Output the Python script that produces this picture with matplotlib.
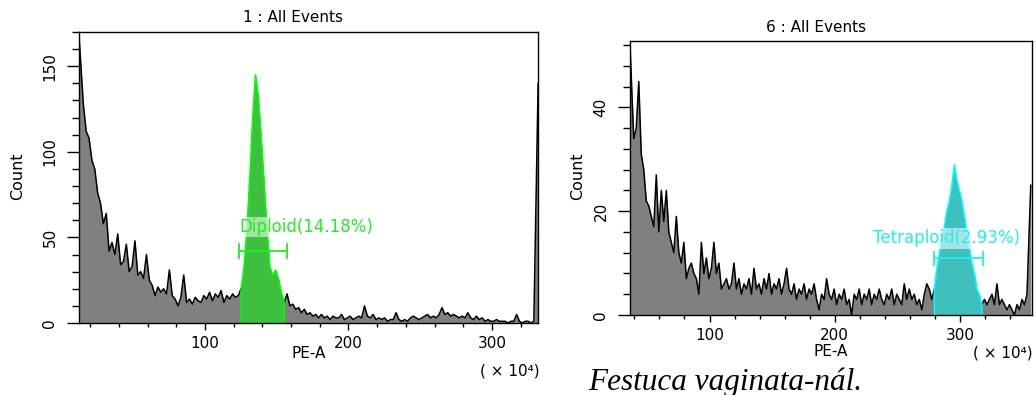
import numpy as np
import matplotlib
matplotlib.use('Agg')
import matplotlib.pyplot as plt
from matplotlib.ticker import MultipleLocator

plt.rcParams['font.family'] = ['DejaVu Sans']

""" ================================================================
                    DATA (read off the two histograms)
  ================================================================"""

# sample 1: PE-A channel (x 10^4), 2-unit bins
left_edges = np.linspace(12.2, 332.2, 161)
left_counts = [
    168, 128, 112, 108, 95, 90, 76, 70, 58, 64,
    42, 47, 40, 52, 34, 36, 46, 30, 33, 48,
    28, 30, 26, 40, 25, 22, 16, 21, 18, 20,
    17, 31, 16, 14, 10, 15, 28, 12, 14, 11,
    15, 13, 12, 16, 14, 18, 13, 17, 15, 19,
    12, 16, 14, 17, 15, 16, 20, 33, 55, 85,
    120, 145, 132, 108, 82, 55, 33, 28, 31, 26,
    18, 12, 17, 10, 11, 8, 9, 6, 8, 5,
    6, 4, 5, 3, 5, 3, 4, 2, 4, 3,
    3, 5, 2, 3, 4, 2, 3, 4, 3, 10,
    4, 3, 5, 2, 3, 2, 3, 1, 2, 2,
    6, 2, 1, 2, 1, 3, 4, 3, 2, 3,
    4, 5, 3, 4, 3, 5, 9, 5, 6, 4,
    5, 4, 3, 4, 3, 6, 3, 2, 4, 2,
    3, 1, 2, 1, 1, 2, 1, 1, 1, 0,
    1, 1, 5, 1, 0, 1, 1, 0, 1, 140,
]
left_gate = (124.0, 157.0)
left_label = 'Diploid(14.18%)'
left_title = '1 : All Events'

# sample 6
right_edges = np.linspace(36.5, 356.5, 161)
right_counts = [
    52, 34, 36, 45, 31, 28, 22, 21, 19, 17,
    27, 16, 24, 18, 24, 16, 14, 12, 19, 12,
    10, 14, 7, 9, 10, 8, 7, 4, 14, 8,
    11, 7, 9, 14, 8, 10, 5, 6, 7, 5,
    6, 10, 5, 7, 4, 6, 5, 7, 4, 9,
    5, 6, 4, 7, 5, 8, 4, 6, 5, 7,
    4, 6, 9, 5, 4, 6, 3, 5, 4, 6,
    3, 5, 4, 6, 3, 1, 4, 3, 7, 4,
    3, 5, 2, 4, 3, 5, 2, 3, 0, 4,
    3, 5, 2, 4, 3, 5, 2, 4, 3, 5,
    3, 2, 4, 3, 5, 2, 4, 3, 2, 6,
    3, 5, 3, 4, 2, 3, 1, 4, 6, 5,
    3, 5, 9, 12, 15, 17, 20, 22, 25, 29,
    26, 24, 22, 19, 16, 13, 10, 8, 5, 4,
    2, 3, 2, 3, 4, 2, 6, 2, 3, 2,
    1, 2, 1, 0, 2, 1, 3, 2, 4, 25,
]
right_gate = (279.0, 318.5)
right_label = 'Tetraploid(2.93%)'
right_title = '6 : All Events'

caption = 'Festuca vaginata-nál.'


""" ================================================================
                            PLOTTING
  ================================================================"""

def draw_hist(ax, edges, counts, gate, fill_col, line_col):
    counts = np.asarray(counts, dtype=float)
    centers = (edges[:-1] + edges[1:]) / 2
    sel = (centers > gate[0]) & (centers < gate[1])
    i0 = int(np.argmax(sel))
    i1 = i0 + int(sel.sum())

    # jagged line through the channel centres; stretch the ends to the axis edges
    xs = centers.copy()
    xs[0], xs[-1] = edges[0], edges[-1]

    ax.fill_between(xs, counts, color='#808080', lw=0)
    ax.fill_between(xs[i0:i1], counts[i0:i1], color=fill_col, lw=0)
    ax.plot(xs[:i0 + 1], counts[:i0 + 1], color='black', lw=1.1)
    ax.plot(xs[i1 - 1:], counts[i1 - 1:], color='black', lw=1.1)
    gx = np.r_[xs[i0], xs[i0:i1], xs[i1 - 1]]
    gy = np.r_[0, counts[i0:i1], 0]
    ax.plot(gx, gy, color=line_col, lw=1.1)


def draw_gate_bar(ax, gate, y, cap, col):
    ax.plot([gate[0], gate[1]], [y, y], color=col, lw=1.3)
    ax.plot([gate[0], gate[0]], [y - cap, y + cap], color=col, lw=1.3)
    ax.plot([gate[1], gate[1]], [y - cap, y + cap], color=col, lw=1.3)


def style_axes(ax, xlim, ylim, ymaj, ymin):
    ax.set_xlim(*xlim)
    ax.set_ylim(*ylim)
    ax.xaxis.set_major_locator(MultipleLocator(100))
    ax.xaxis.set_minor_locator(MultipleLocator(20))
    ax.yaxis.set_major_locator(MultipleLocator(ymaj))
    ax.yaxis.set_minor_locator(MultipleLocator(ymin))
    ax.tick_params(axis='x', which='major', length=5, width=1, pad=4, labelsize=11)
    ax.tick_params(axis='x', which='minor', length=3, width=1)
    ax.tick_params(axis='y', which='major', length=8.5, width=1, pad=7, labelsize=11)
    ax.tick_params(axis='y', which='minor', length=5, width=1)
    for lbl in ax.get_yticklabels():
        lbl.set_rotation(90)
        lbl.set_va('center')
    for sp in ax.spines.values():
        sp.set_linewidth(1.0)


W, H = 1036, 395
fig = plt.figure(figsize=(W / 100, H / 100), dpi=100)

def px_box(x0, y0, x1, y1):
    return [x0 / W, 1 - y1 / H, (x1 - x0) / W, (y1 - y0) / H]

ax1 = fig.add_axes(px_box(79, 32, 538, 323))
ax2 = fig.add_axes(px_box(630, 41, 1032, 315))

# --- left panel ---
draw_hist(ax1, left_edges, left_counts, left_gate, '#3fbf3f', '#00ff00')
draw_gate_bar(ax1, left_gate, 42, 4, '#22ee22')
ax1.text(left_gate[0], 56, left_label, color='#22ee22', fontsize=12,
         ha='left', va='center',
         bbox=dict(facecolor='white', alpha=0.55, edgecolor='none', pad=1))
style_axes(ax1, (12.2, 332.1), (0, 170), 50, 10)

# --- right panel ---
draw_hist(ax2, right_edges, right_counts, right_gate, '#40bfbf', '#00ffff')
draw_gate_bar(ax2, right_gate, 10.9, 1.3, '#22eeee')
ax2.text(289, 14.8, right_label, color='#22eeee', fontsize=12,
         ha='center', va='center',
         bbox=dict(facecolor='white', alpha=0.55, edgecolor='none', pad=1))
style_axes(ax2, (36.5, 357.5), (0, 52.8), 20, 4)

# --- titles and axis labels (placed in pixel coords) ---
def ftext(x, y, s, **kw):
    fig.text(x / W, 1 - y / H, s, **kw)

ftext(293, 18, left_title, ha='center', va='center', fontsize=11)
ftext(816, 28, right_title, ha='center', va='center', fontsize=11)
ftext(18, 176, 'Count', rotation=90, ha='center', va='center', fontsize=11.5)
ftext(578, 176, 'Count', rotation=90, ha='center', va='center', fontsize=11.5)
ftext(309, 353, 'PE-A', ha='center', va='center', fontsize=11)
ftext(831, 352, 'PE-A', ha='center', va='center', fontsize=11)
ftext(540, 371, '( × 10⁴)', ha='right', va='center', fontsize=11)
ftext(1033, 353, '( × 10⁴)', ha='right', va='center', fontsize=11)

ftext(588, 390, caption, ha='left', va='baseline', fontsize=22.5,
      family='Liberation Serif', style='italic')

fig.savefig('out.png', dpi=100)
